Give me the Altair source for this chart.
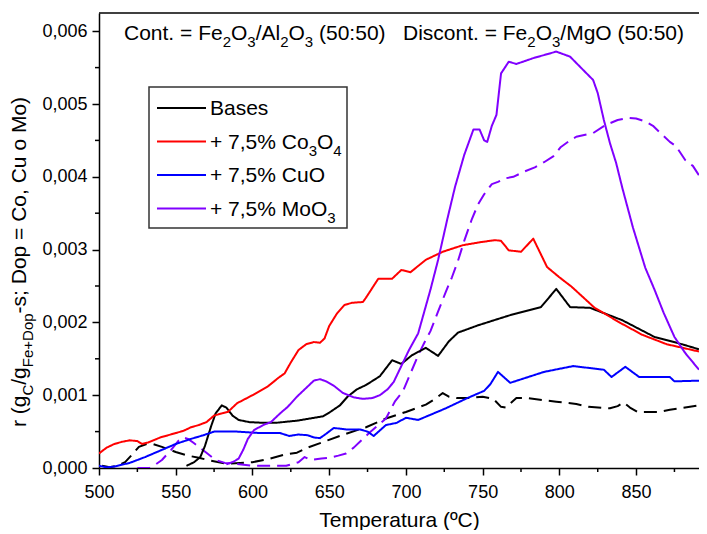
import re
import altair as alt
import pandas as pd

# ---------------- data ----------------
series_names = ["Bases", "+ 7,5% Co3O4", "+ 7,5% CuO", "+ 7,5% MoO3"]
series_colors = ["#000000", "#FF0000", "#0000FF", "#8000FF"]
support_types = ["Cont.", "Discont."]

# r in units of 0.001 g_C/(g_Fe+Dop s)
bases_cont_T = [557, 562, 566, 569, 573, 576, 580, 583, 587, 591, 598, 608, 615, 629, 646, 650, 657, 662, 668, 674,
                683, 691, 697, 704, 713, 721, 728, 734, 747, 768, 788, 798, 807, 820, 841, 862, 880, 891]
bases_cont_r = [0.03, 0.08, 0.15, 0.30, 0.57, 0.75, 0.86, 0.83, 0.72, 0.66, 0.63, 0.62, 0.62, 0.65, 0.71, 0.76, 0.86, 0.98, 1.08, 1.14,
                1.26, 1.48, 1.43, 1.55, 1.65, 1.54, 1.74, 1.86, 1.96, 2.10, 2.21, 2.46, 2.21, 2.20, 2.03, 1.80, 1.70, 1.63]

co_cont_T = [500, 505, 510, 515, 520, 525, 528, 532, 540, 550, 555, 560, 565, 570, 575, 580, 584, 590, 600, 610,
             617, 621, 625, 630, 635, 640, 644, 647, 650, 655, 660, 665, 672, 674, 682, 691, 697, 703, 713, 724,
             737, 748, 758, 762, 767, 775, 783, 792, 800, 808, 823, 840, 854, 870, 891]
co_cont_r = [0.20, 0.28, 0.33, 0.36, 0.38, 0.37, 0.33, 0.35, 0.42, 0.48, 0.51, 0.56, 0.59, 0.63, 0.72, 0.75, 0.77, 0.89, 1.00, 1.12,
             1.24, 1.30, 1.45, 1.62, 1.70, 1.73, 1.72, 1.78, 1.95, 2.12, 2.24, 2.27, 2.28, 2.34, 2.60, 2.60, 2.72, 2.69, 2.86, 2.97,
             3.06, 3.10, 3.13, 3.12, 2.99, 2.97, 3.15, 2.76, 2.62, 2.49, 2.20, 1.99, 1.83, 1.70, 1.60]

cu_cont_T = [500, 505, 510, 520, 530, 540, 550, 560, 568, 575, 590, 605, 618, 624, 630, 636, 640, 644, 648, 653,
             661, 670, 675, 679, 687, 694, 700, 708, 726, 740, 751, 755, 760, 768, 790, 809, 829, 834, 843, 852,
             872, 875, 891]
cu_cont_r = [0.03, 0.01, 0.02, 0.07, 0.15, 0.24, 0.33, 0.40, 0.45, 0.50, 0.50, 0.48, 0.48, 0.44, 0.46, 0.45, 0.42, 0.41, 0.47, 0.55,
             0.53, 0.53, 0.50, 0.44, 0.59, 0.62, 0.69, 0.66, 0.82, 0.96, 1.06, 1.15, 1.32, 1.17, 1.32, 1.40, 1.35, 1.25, 1.39, 1.25,
             1.25, 1.19, 1.20]

mo_cont_T = [583, 588, 591, 594, 597, 601, 607, 612, 618, 623, 629, 635, 640, 644, 648, 653, 659, 666, 672, 678,
             683, 688, 692, 697, 702, 708, 712, 716, 721, 727, 732, 738, 744, 748, 751, 753, 756, 759, 762, 767,
             772, 783, 798, 807, 814, 822, 825, 829, 833, 837, 841, 848, 856, 862, 868, 875, 882, 891]
mo_cont_r = [0.05, 0.09, 0.13, 0.25, 0.40, 0.52, 0.59, 0.63, 0.75, 0.84, 0.98, 1.10, 1.20, 1.22, 1.19, 1.13, 1.03, 0.97, 0.95, 0.96,
             1.00, 1.08, 1.18, 1.40, 1.62, 1.85, 2.15, 2.45, 2.86, 3.42, 3.86, 4.30, 4.65, 4.65, 4.50, 4.48, 4.70, 4.85, 5.42, 5.58,
             5.55, 5.63, 5.72, 5.65, 5.50, 5.33, 5.15, 4.78, 4.46, 4.19, 3.85, 3.30, 2.75, 2.45, 2.13, 1.80, 1.58, 1.35]

bases_disc_T = [502, 507, 512, 517, 521, 526, 531, 535, 541, 550, 558, 565, 573, 583, 592, 600, 610, 620, 629, 636,
                649, 661, 674, 687, 700, 713, 719, 724, 728, 733, 740, 750, 757, 762, 765, 772, 779, 790, 798, 811,
                819, 833, 838, 842, 846, 851, 865, 872, 891]
bases_disc_r = [0.03, 0.01, 0.03, 0.08, 0.17, 0.29, 0.33, 0.33, 0.29, 0.22, 0.17, 0.14, 0.10, 0.06, 0.07, 0.08, 0.12, 0.18, 0.21, 0.28,
                0.38, 0.47, 0.56, 0.68, 0.77, 0.87, 0.95, 1.03, 0.98, 0.96, 0.96, 0.98, 0.95, 0.84, 0.83, 0.96, 0.96, 0.93, 0.91, 0.88,
                0.84, 0.82, 0.85, 0.90, 0.83, 0.77, 0.77, 0.80, 0.86]

mo_disc_T = [525, 533, 537, 541, 547, 552, 555, 558, 562, 570, 576, 582, 588, 600, 613, 622, 630, 634, 638, 645,
             650, 656, 661, 666, 670, 676, 681, 687, 693, 698, 702, 708, 712, 716, 721, 726, 730, 734, 738, 743,
             747, 751, 756, 760, 765, 770, 777, 784, 790, 796, 801, 807, 811, 822, 830, 838, 845, 850, 856, 861,
             866, 872, 876, 882, 887, 891]
mo_disc_r = [0.00, 0.00, 0.05, 0.11, 0.25, 0.38, 0.42, 0.40, 0.34, 0.21, 0.11, 0.07, 0.06, 0.03, 0.03, 0.03, 0.08, 0.15, 0.11, 0.13,
             0.14, 0.17, 0.20, 0.28, 0.36, 0.48, 0.57, 0.68, 0.92, 1.05, 1.25, 1.55, 1.72, 1.88, 2.15, 2.42, 2.62, 2.85, 3.12, 3.42,
             3.62, 3.76, 3.90, 3.93, 3.98, 4.00, 4.07, 4.13, 4.20, 4.28, 4.41, 4.50, 4.55, 4.60, 4.71, 4.78, 4.81, 4.80, 4.76, 4.70,
             4.60, 4.48, 4.42, 4.23, 4.15, 4.02]

x_major_ticks = [500, 550, 600, 650, 700, 750, 800, 850]
x_minor_ticks = [525, 575, 625, 675, 725, 775, 825, 875]
y_major_ticks = [0.000, 0.001, 0.002, 0.003, 0.004, 0.005, 0.006]
y_minor_ticks = [0.0005, 0.0015, 0.0025, 0.0035, 0.0045, 0.0055]

header_left = "Cont. = Fe_{2}O_{3}/Al_{2}O_{3} (50:50)"
header_right = "Discont. = Fe_{2}O_{3}/MgO (50:50)"
y_title = "r (g_{C}/g_{Fe+Dop}-s; Dop = Co, Cu o Mo)"
x_title = "Temperatura (ºC)"
legend_labels = ["Bases", "+ 7,5% Co_{3}O_{4}", "+ 7,5% CuO", "+ 7,5% MoO_{3}"]

# ---------------- assemble ----------------
curves = [
    ("Bases", "Discont.", bases_disc_T, bases_disc_r),
    ("+ 7,5% MoO3", "Discont.", mo_disc_T, mo_disc_r),
    ("Bases", "Cont.", bases_cont_T, bases_cont_r),
    ("+ 7,5% CuO", "Cont.", cu_cont_T, cu_cont_r),
    ("+ 7,5% Co3O4", "Cont.", co_cont_T, co_cont_r),
    ("+ 7,5% MoO3", "Cont.", mo_cont_T, mo_cont_r),
]
rows = []
for k, (s, t, Ts, rs) in enumerate(curves):
    for T, r in zip(Ts, rs):
        rows.append({"series": s, "type": t, "curve": k, "T": T, "r": r / 1000.0})
df = pd.DataFrame(rows)

W, H = 600, 455
FONT = "Liberation Sans"
XDOM = [500, 891]
YDOM = [0, 0.00625]

# Arial / Liberation Sans advance widths (1/1000 em)
AW = {' ': 278, '(': 333, ')': 333, '+': 584, ',': 278, '-': 333, '.': 278, '/': 278, ':': 278, ';': 278,
      '=': 584, '%': 889, 'A': 667, 'B': 667, 'C': 722, 'D': 722, 'F': 611, 'M': 833, 'O': 778,
      'a': 556, 'c': 500, 'e': 556, 'g': 556, 'i': 222, 'l': 222, 'n': 556, 'o': 556, 'p': 556,
      'r': 333, 's': 500, 't': 278, 'u': 556, 'º': 365}


def tw(s, size):
    return sum(AW.get(ch, 556) for ch in s) * size / 1000.0


def parse(markup):
    parts = []
    for m in re.finditer(r"_\{([^}]*)\}|([^_]+)", markup):
        if m.group(1) is not None:
            parts.append((m.group(1), True))
        else:
            parts.append((m.group(2), False))
    return parts


def rich(markup, size, sub_size):
    return sum(tw(t, sub_size if sub else size) for t, sub in parse(markup))


def rich_rows(markup, x0, y0, size, sub_size, shift, vertical=False):
    out = []
    pos = 0.0
    for text, sub in parse(markup):
        fs = sub_size if sub else size
        lead = len(text) - len(text.lstrip(' '))
        pos += tw(' ' * lead, fs)
        body = text.lstrip(' ')
        off = shift if sub else 0
        if vertical:
            out.append({"t": body, "x": x0 + off, "y": y0 - pos, "fs": fs})
        else:
            out.append({"t": body, "x": x0 + pos, "y": y0 + off, "fs": fs})
        pos += tw(body, fs)
    return out


# header inside plot
hdr = rich_rows(header_left, 25, 27, 21, 15, 7) + rich_rows(header_right, 304, 27, 21, 15, 7)
# legend labels
LEG_ROWS = [95, 128.5, 162, 195.5]
leg_txt = []
for lab, ry in zip(legend_labels, LEG_ROWS):
    leg_txt += rich_rows(lab, 111, ry + 7, 21, 15, 7)
txt_df = pd.DataFrame(hdr + leg_txt)

# rotated y title
ytot = rich(y_title, 21, 15)
ytitle_df = pd.DataFrame(rich_rows(y_title, -73, 249 + ytot / 2, 21, 15, 7, vertical=True))

leg_df = pd.DataFrame({"series": series_names, "y": LEG_ROWS, "x0": [58] * 4, "x1": [107] * 4})

color_scale = alt.Scale(domain=series_names, range=series_colors)
dash_scale = alt.Scale(domain=support_types, range=[[1, 0], [13, 7]])
xs = alt.Scale(domain=XDOM, nice=False, zero=False)
ys = alt.Scale(domain=YDOM, nice=False)

lines = alt.Chart(df).mark_line(strokeWidth=2, clip=True, strokeJoin="round").encode(
    x=alt.X("T:Q", scale=xs,
            axis=alt.Axis(values=x_major_ticks, format="d", title=x_title, labelFlush=False)),
    y=alt.Y("r:Q", scale=ys,
            axis=alt.Axis(values=y_major_ticks, title=None,
                          labelExpr="replace(format(datum.value, '.3f'), '.', ',')")),
    color=alt.Color("series:N", scale=color_scale, legend=None),
    strokeDash=alt.StrokeDash("type:N", scale=dash_scale, legend=None),
    detail="curve:N",
    order=alt.Order("T:Q"),
)

xminor = alt.Chart(pd.DataFrame({"v": x_minor_ticks})).mark_rule(color="black", strokeWidth=1.5).encode(
    x=alt.X("v:Q", scale=xs), y=alt.value(H), y2=alt.value(H + 4))
yminor = alt.Chart(pd.DataFrame({"v": y_minor_ticks})).mark_rule(color="black", strokeWidth=1.5).encode(
    y=alt.Y("v:Q", scale=ys), x=alt.value(-4), x2=alt.value(0))
top_border = alt.Chart(pd.DataFrame({"a": [0]})).mark_rule(color="black", strokeWidth=1.5).encode(
    x=alt.value(0), x2=alt.value(W), y=alt.value(0))

leg_box = alt.Chart(pd.DataFrame({"a": [0]})).mark_rect(
    fill="white", stroke="#333333", strokeWidth=1.5).encode(
    x=alt.value(50), x2=alt.value(248), y=alt.value(74), y2=alt.value(215))
leg_lines = alt.Chart(leg_df).mark_rule(strokeWidth=2).encode(
    x=alt.X("x0:Q", scale=None), x2="x1:Q", y=alt.Y("y:Q", scale=None),
    color=alt.Color("series:N", scale=color_scale, legend=None))

texts = alt.Chart(txt_df).mark_text(align="left", baseline="alphabetic", font=FONT, color="black").encode(
    x=alt.X("x:Q", scale=None), y=alt.Y("y:Q", scale=None),
    size=alt.Size("fs:Q", scale=None, legend=None), text="t:N")
ytitle = alt.Chart(ytitle_df).mark_text(align="left", baseline="alphabetic", font=FONT, color="black",
                                        angle=270).encode(
    x=alt.X("x:Q", scale=None), y=alt.Y("y:Q", scale=None),
    size=alt.Size("fs:Q", scale=None, legend=None), text="t:N")

chart = alt.layer(lines, xminor, yminor, top_border, leg_box, leg_lines, texts, ytitle).properties(
    width=W, height=H,
    autosize=alt.AutoSizeParams(type="none"),
    padding={"left": 91, "top": 5, "right": 0, "bottom": 62},
).configure_view(stroke="transparent").configure_axis(
    grid=False, labelFont=FONT, titleFont=FONT, labelFontSize=18, titleFontSize=21,
    titleFontWeight="normal", labelColor="black", titleColor="black",
    domainColor="black", tickColor="black", domainWidth=1.5, tickWidth=1.5, tickSize=7,
).configure_axisX(labelPadding=8, titlePadding=8).configure_axisY(labelPadding=5)

chart.save("out.html", embed_options={"renderer": "svg", "actions": False})
